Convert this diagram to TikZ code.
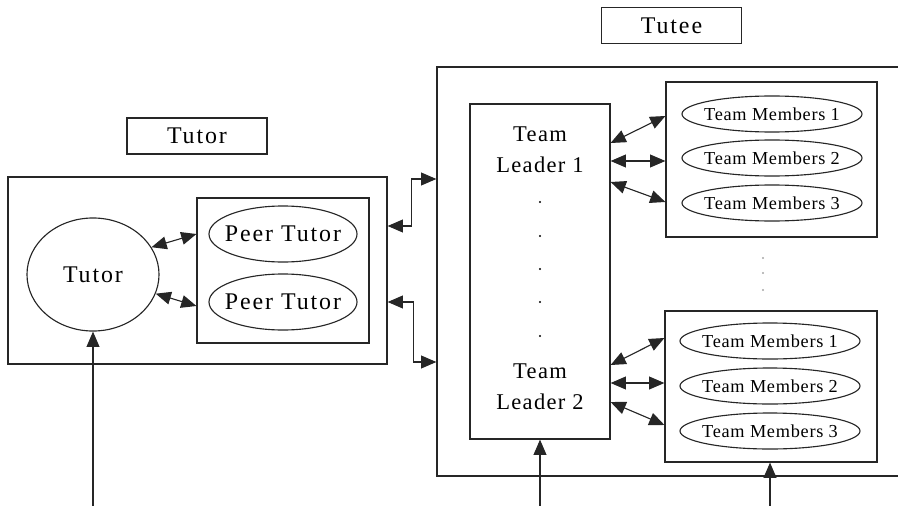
\documentclass[tikz,border=0pt]{standalone}
\usepackage{fontspec}
\setmainfont{Liberation Serif}
\usetikzlibrary{arrows.meta,shapes.geometric}

\tikzset{
  box/.style={draw, rectangle, inner sep=0pt},
  title/.style={box, minimum width=3.5cm, minimum height=0.9cm, font=\fontsize{17}{20}\selectfont\addfontfeatures{LetterSpace=8}},
  oval/.style={draw, ellipse, inner xsep=-30pt, inner ysep=-8pt},
  peer/.style={oval, minimum width=3.7cm, minimum height=1.4cm, font=\fontsize{17}{20}\selectfont\addfontfeatures{LetterSpace=8}},
  member/.style={oval, minimum width=4.5cm, minimum height=0.9cm, font=\fontsize{13}{15}\selectfont\addfontfeatures{LetterSpace=4}},
  lead/.style={font=\fontsize{16}{19}\selectfont\addfontfeatures{LetterSpace=6}},
  link/.style={{Triangle[length=0.38cm,width=0.32cm]}-{Triangle[length=0.38cm,width=0.32cm]}},
  feed/.style={-{Triangle[length=0.38cm,width=0.32cm]}},
  dot/.style={fill, circle, inner sep=0pt, minimum size=1.6pt},
}

\begin{document}
\begin{tikzpicture}[x=0.025cm, y=-0.025cm, line width=0.8pt, draw=black!85]
  \useasboundingbox (0,0) rectangle (898,505);
  \clip (0,0) rectangle (898,505);

  % tutor side
  \node[title] (tutortitle) at (197,136) {Tutor};
  \node[box, minimum width=9.475cm, minimum height=4.675cm] (tutorbox) at (197.5,270.5) {};
  \node[oval, minimum width=3.3cm, minimum height=2.825cm, font=\fontsize{17}{20}\selectfont\addfontfeatures{LetterSpace=8}] (tutor) at (93,274.5) {Tutor};
  \node[box, minimum width=4.3cm, minimum height=3.625cm] (peerbox) at (283,270.5) {};
  \node[peer] (peerA) at (283,234) {Peer Tutor};
  \node[peer] (peerB) at (283,302) {Peer Tutor};

  % tutee side
  \node[title] (tuteetitle) at (671.5,25.5) {Tutee};
  \node[box, minimum width=11.825cm, minimum height=10.225cm] (tuteebox) at (673.5,271.5) {};
  \node[box, minimum width=3.5cm, minimum height=8.375cm] (leader) at (540,271.5) {};
  \node[lead] (leaderA) at (540,152) {\begin{tabular}{c}Team\\[3pt]Leader 1\end{tabular}};
  \node[lead] (leaderB) at (540,389) {\begin{tabular}{c}Team\\[3pt]Leader 2\end{tabular}};
  \foreach \y in {202,236,269,302,336}
    \node[dot] at (540,\y) {};

  \node[box, minimum width=5.275cm, minimum height=3.875cm] (membersA) at (771.5,159.5) {};
  \node[member] (memA1) at (772,114) {Team Members 1};
  \node[member] (memA2) at (772,158) {Team Members 2};
  \node[member] (memA3) at (772,203) {Team Members 3};

  \node[box, minimum width=5.3cm, minimum height=3.775cm] (membersB) at (771,386.5) {};
  \node[member] (memB1) at (770,341) {Team Members 1};
  \node[member] (memB2) at (770,386) {Team Members 2};
  \node[member] (memB3) at (770,431) {Team Members 3};

  \foreach \y in {258,273,290}
    \node[dot, fill=black!35] at (763,\y) {};

  % links
  \draw[link] (tutor.25) -- (peerbox.west |- peerA);
  \draw[link] (tutor.-17) -- (peerbox.west |- 0,306);
  \draw[link] (tutorbox.east |- 0,226) -- ++(24,0) |- (tuteebox.west |- 0,179);
  \draw[link] (tutorbox.east |- peerB) -- ++(26,0) |- (tuteebox.west |- 0,362);

  \draw[link] (leader.east |- 0,143) -- (membersA.west |- 0,116);
  \draw[link] (leader.east |- 0,161) -- (membersA.west |- 0,161);
  \draw[link] (leader.east |- 0,182) -- (membersA.west |- 0,202);
  \draw[link] (leader.east |- 0,365) -- (membersB.west |- 0,338);
  \draw[link] (leader.east |- 0,383) -- (membersB.west |- 0,383);
  \draw[link] (leader.east |- 0,402) -- (membersB.west |- 0,425);

  % inputs from below
  \coordinate (inTutor) at (93,510);
  \coordinate (inLeader) at (540,510);
  \coordinate (inMembers) at (770,510);
  \draw[feed] (inTutor) -- (tutor.south);
  \draw[feed] (inLeader) -- (leader.south);
  \draw[feed] (inMembers) -- (membersB.south -| inMembers);
\end{tikzpicture}
\end{document}
